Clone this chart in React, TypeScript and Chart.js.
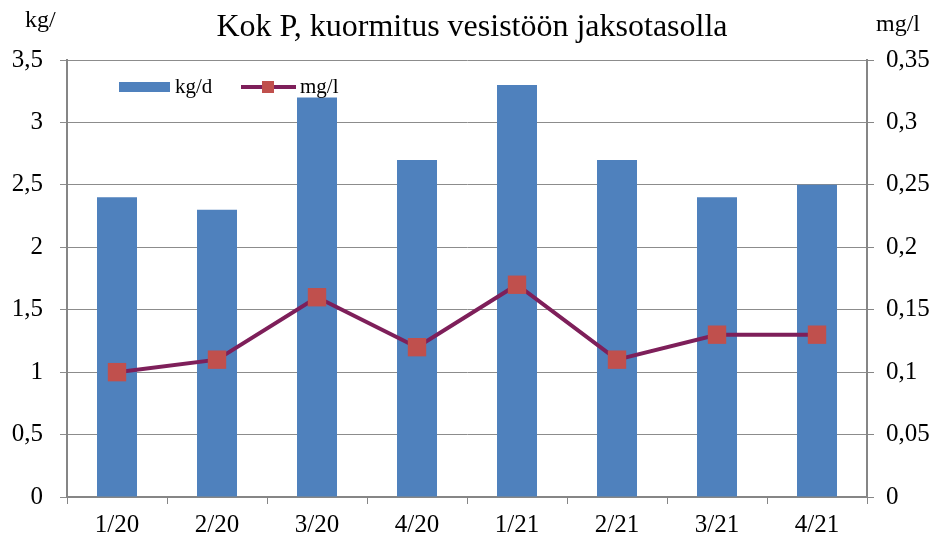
import React, { useEffect, useRef } from "react";
import { Chart, registerables } from "chart.js";

Chart.register(...registerables);

const categories = ["1/20", "2/20", "3/20", "4/20", "1/21", "2/21", "3/21", "4/21"];
const kgPerDay = [2.4, 2.3, 3.2, 2.7, 3.3, 2.7, 2.4, 2.5];
const mgPerL = [0.1, 0.11, 0.16, 0.12, 0.17, 0.11, 0.13, 0.13];
const titleText = "Kok P, kuormitus vesistöön jaksotasolla";
const leftUnit = "kg/";
const rightUnit = "mg/l";
const barLabel = "kg/d";
const lineLabel = "mg/l";

const BAR = "#4F81BD";
const LINE = "#7E1F5A";
const MARK = "#C0504D";
const AXIS = "#868686";
const FONT = "'Liberation Serif', 'Times New Roman', serif";

const overlay = {
  id: "overlay",
  afterDraw(chart: any) {
    const { ctx } = chart;
    ctx.save();
    ctx.fillStyle = "#000";
    ctx.textBaseline = "middle";
    ctx.textAlign = "center";
    ctx.font = `32px ${FONT}`;
    ctx.fillText(titleText, 472, 28);
    ctx.font = `24px ${FONT}`;
    ctx.textAlign = "left";
    ctx.fillText(leftUnit, 25, 21);
    ctx.fillText(rightUnit, 876, 25);
    // legend
    ctx.font = `21px ${FONT}`;
    const ly = 87;
    ctx.fillStyle = BAR;
    ctx.fillRect(119, ly - 5, 51, 10);
    ctx.fillStyle = "#000";
    ctx.fillText(barLabel, 175, ly);
    ctx.strokeStyle = LINE;
    ctx.lineWidth = 4;
    ctx.beginPath();
    ctx.moveTo(241, ly);
    ctx.lineTo(296, ly);
    ctx.stroke();
    ctx.fillStyle = MARK;
    ctx.fillRect(262, ly - 6, 12, 12);
    ctx.fillStyle = "#000";
    ctx.fillText(lineLabel, 300, ly);
    ctx.restore();
  },
};

export default function App() {
  const ref = useRef<HTMLCanvasElement | null>(null);
  useEffect(() => {
    document.body.style.margin = "0";
    const chart = new Chart(ref.current as HTMLCanvasElement, {
      type: "bar",
      data: {
        labels: categories,
        datasets: [
          {
            type: "line",
            label: lineLabel,
            data: mgPerL,
            yAxisID: "y2",
            borderColor: LINE,
            borderWidth: 4,
            pointStyle: "rect",
            pointRadius: 13,
            pointBackgroundColor: MARK,
            pointBorderColor: MARK,
            pointBorderWidth: 0,
            tension: 0,
            order: 0,
          } as any,
          {
            type: "bar",
            label: barLabel,
            data: kgPerDay,
            yAxisID: "y",
            backgroundColor: BAR,
            barPercentage: 0.4,
            categoryPercentage: 1,
            order: 1,
          },
        ],
      },
      options: {
        animation: false,
        responsive: false,
        layout: { padding: { top: 60, left: 0, right: 0, bottom: 0 } },
        plugins: { legend: { display: false }, title: { display: false }, tooltip: { enabled: false } },
        scales: {
          x: {
            offset: true,
            grid: { offset: true, drawOnChartArea: false, drawTicks: true, tickLength: 7, color: AXIS },
            border: { color: AXIS, width: 2 },
            ticks: { color: "#000", font: { family: FONT, size: 25 }, padding: 6 },
            afterFit: (s: any) => { s.height = 48; },
          },
          y: {
            position: "left",
            min: 0,
            max: 3.5,
            grid: { color: "#8C8C8C", lineWidth: 1, drawTicks: true, tickLength: 7 },
            border: { color: AXIS, width: 2 },
            ticks: {
              stepSize: 0.5,
              color: "#000",
              font: { family: FONT, size: 25 },
              padding: 17,
              callback: (v: any) => String(v).replace(".", ","),
            },
            afterFit: (s: any) => { s.width = 67; },
          },
          y2: {
            position: "right",
            min: 0,
            max: 0.35,
            grid: { drawOnChartArea: false, drawTicks: true, tickLength: 7, color: AXIS },
            border: { color: AXIS, width: 2 },
            ticks: {
              stepSize: 0.05,
              color: "#000",
              font: { family: FONT, size: 25 },
              padding: 12,
              callback: (v: any) => String(Math.round(v * 100) / 100).replace(".", ","),
            },
            afterFit: (s: any) => { s.width = 71; },
          },
        },
      },
      plugins: [overlay],
    });
    return () => chart.destroy();
  }, []);
  return (
    <div style={{ width: 938, height: 545, position: "relative" }}>
      <canvas ref={ref} width={938} height={545} />
    </div>
  );
}
